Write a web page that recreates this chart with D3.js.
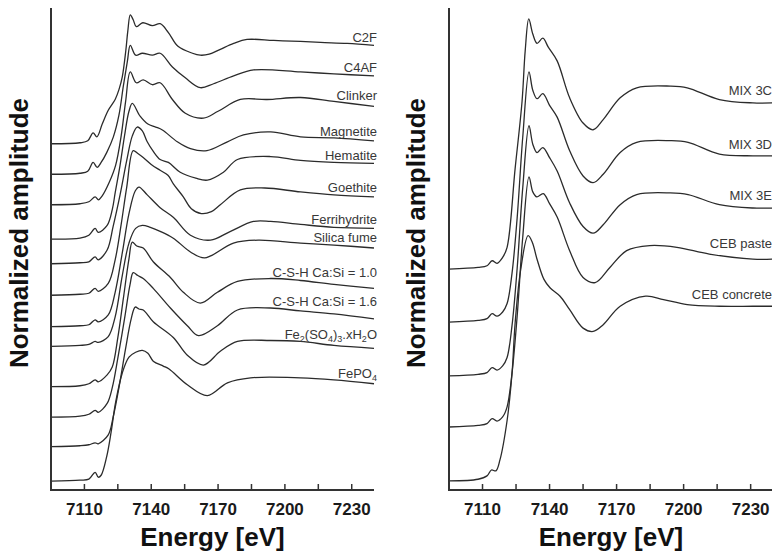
<!DOCTYPE html>
<html>
<head>
<meta charset="utf-8">
<script src="https://cdn.jsdelivr.net/npm/d3@7"></script>
<style>
  body { margin: 0; background: #fff; }
  svg { display: block; }
  .curve { fill: none; stroke: #2b2b2b; stroke-width: 1.3; }
  .lab { font-family: "Liberation Sans", Arial, sans-serif; font-size: 13px; fill: #383838; }
  .tick-label { font-family: "Liberation Sans", Arial, sans-serif; font-weight: bold; font-size: 17px; fill: #1a1a1a; }
  .axis-title { font-family: "Liberation Sans", Arial, sans-serif; font-weight: bold; font-size: 26px; fill: #111; }
</style>
</head>
<body>
<svg id="chart" width="772" height="555"></svg>
<script>
// energy ticks shared by both panels
const energyDomain = [7095, 7240];
const majorTicks = [7110, 7140, 7170, 7200, 7230];
const minorTicks = [7125, 7155, 7185, 7215];

// left panel: reference compounds, [energy eV, normalized mu]
const c2f = [[7095,0],[7108,0.01],[7111.5,0.03],[7113.9,0.11],[7115.6,0.07],[7118,0.2],[7120.7,0.34],[7123.8,0.45],[7125.5,0.55],[7127,0.68],[7128.6,0.95],[7129.5,1.15],[7130.6,1.31],[7131.9,1.26],[7133.3,1.19],[7136.2,1.23],[7140.5,1.2],[7144,1.22],[7147.7,1.13],[7152,0.99],[7158.5,0.92],[7162,0.9],[7166,0.91],[7171,0.96],[7177,1.02],[7183,1.06],[7195,1.05],[7207,1.04],[7216,1.03],[7228,1.02],[7240,1.0]];
const c4af = [[7095,0],[7108,0.01],[7111.5,0.03],[7113.9,0.12],[7115.7,0.07],[7117.5,0.12],[7120,0.22],[7123,0.38],[7125.5,0.6],[7127.5,0.9],[7129.3,1.15],[7130.6,1.31],[7133,1.21],[7136,1.23],[7140.5,1.21],[7144,1.23],[7149.5,1.09],[7155.3,0.98],[7162,0.88],[7168,0.92],[7177,1.0],[7186,1.06],[7207,1.04],[7222,1.02],[7240,1.0]];
const clinker = [[7095,0],[7108,0.01],[7112,0.03],[7114.8,0.08],[7116.3,0.05],[7118,0.09],[7121,0.22],[7124,0.4],[7126.5,0.7],[7128.5,1.05],[7130.6,1.35],[7133.3,1.24],[7136.4,1.27],[7140.5,1.22],[7144,1.24],[7149.5,1.07],[7155.3,0.93],[7163.4,0.88],[7170,0.95],[7180,1.07],[7192,1.07],[7207,1.09],[7222,1.05],[7240,1.0]];
const magnetite = [[7095,0],[7108,0.01],[7112,0.04],[7114.8,0.11],[7116.2,0.07],[7120.2,0.14],[7122.5,0.3],[7123.8,0.47],[7126,0.75],[7128,1.05],[7130,1.3],[7131.5,1.38],[7135,1.25],[7138.5,1.17],[7142,1.14],[7145,1.11],[7151.7,0.99],[7157.6,0.92],[7165,0.9],[7174.2,0.99],[7181.4,1.06],[7193.6,1.09],[7207,1.04],[7222,1.03],[7240,1.0]];
const hematite = [[7095,0],[7108,0.01],[7112,0.02],[7114.8,0.07],[7116.2,0.04],[7120.2,0.14],[7122.9,0.38],[7126,0.7],[7129,1.05],[7131.5,1.3],[7133.7,1.39],[7136,1.35],[7138.2,1.24],[7141,1.14],[7144,1.06],[7147.7,1.03],[7153,0.93],[7160,0.87],[7165.2,0.85],[7172.4,0.93],[7178.7,1.06],[7193.6,1.09],[7207,1.05],[7222,1.03],[7240,1.02]];
const goethite = [[7095,0],[7108,0.01],[7112,0.02],[7114.8,0.07],[7116.2,0.04],[7120.7,0.12],[7123.8,0.36],[7126.5,0.72],[7129,1.1],[7131.9,1.47],[7134,1.44],[7136.4,1.4],[7140,1.33],[7144,1.27],[7147.5,1.22],[7150,1.13],[7154.4,1.0],[7158,0.88],[7162.5,0.83],[7167,0.85],[7171,0.92],[7180,1.07],[7191,1.09],[7207,1.05],[7222,1.02],[7240,1.0]];
const ferrihydrite = [[7095,0],[7108,0.01],[7112,0.02],[7114.8,0.07],[7116.2,0.05],[7120.7,0.12],[7123.8,0.35],[7127,0.75],[7130,1.15],[7132.8,1.38],[7134.5,1.42],[7138.2,1.34],[7144,1.21],[7150,1.11],[7157.6,0.93],[7166.6,0.88],[7175.6,0.97],[7185.9,1.07],[7193.6,1.07],[7207,1.04],[7222,1.01],[7240,1.0]];
const silicaFume = [[7095,0],[7108,0.01],[7112,0.02],[7114.8,0.05],[7116.2,0.04],[7120.7,0.1],[7123.8,0.3],[7127,0.72],[7130,1.05],[7133,1.2],[7136,1.23],[7139.6,1.21],[7144,1.17],[7149.9,1.1],[7157.6,0.96],[7164,0.9],[7176.9,1.05],[7188,1.08],[7207,1.05],[7222,1.03],[7240,1.0]];
const csh10 = [[7095,0],[7108,0.01],[7112,0.03],[7114.8,0.07],[7116.2,0.05],[7120.2,0.12],[7122.5,0.2],[7125,0.5],[7127.5,0.9],[7130,1.3],[7131.5,1.47],[7133.5,1.43],[7136.4,1.41],[7140.9,1.27],[7148.6,1.11],[7154.4,0.96],[7162,0.85],[7169.7,0.96],[7178.7,1.07],[7193.6,1.1],[7207,1.08],[7222,1.04],[7240,1.0]];
const csh16 = [[7095,0],[7108,0.01],[7112,0.03],[7114.8,0.07],[7116.2,0.05],[7120.2,0.14],[7122.5,0.3],[7125,0.6],[7128,1.0],[7130.5,1.35],[7131.9,1.47],[7134,1.44],[7136.4,1.41],[7140.9,1.31],[7148.6,1.11],[7156.2,0.93],[7161.2,0.83],[7169.7,0.93],[7178.7,1.09],[7193.6,1.11],[7207,1.08],[7222,1.05],[7240,1.0]];
const feSulfate = [[7095,0],[7108,0.01],[7112,0.02],[7114.8,0.04],[7116.2,0.03],[7120.7,0.12],[7122.9,0.3],[7125.5,0.6],[7128.5,1.0],[7131,1.3],[7132.8,1.42],[7134.5,1.4],[7136.4,1.39],[7140.9,1.27],[7149.9,1.11],[7156.2,0.93],[7163.4,0.83],[7171,0.97],[7178.7,1.07],[7193.6,1.08],[7207,1.07],[7222,1.03],[7240,1.0]];
const fePO4 = [[7095,0],[7108,0.01],[7112,0.02],[7114.8,0.09],[7116.2,0.04],[7117.5,0.06],[7120,0.25],[7122,0.5],[7124,0.8],[7127,1.1],[7130,1.26],[7133,1.31],[7136,1.33],[7138.5,1.3],[7140.9,1.22],[7145.4,1.17],[7148,1.14],[7156.2,0.98],[7165.2,0.87],[7174.2,1.0],[7184.6,1.05],[7207,1.05],[7222,1.03],[7240,0.99]];

const leftSeries = [c2f, c4af, clinker, magnetite, hematite, goethite, ferrihydrite, silicaFume, csh10, csh16, feSulfate, fePO4];
const leftOffsets = [3.52, 3.21, 2.9, 2.55, 2.3, 1.98, 1.66, 1.46, 1.05, 0.74, 0.44, 0.09];
// label pieces: [text, isSubscript]
const leftLabels = [
  [["C2F"]], [["C4AF"]], [["Clinker"]], [["Magnetite"]], [["Hematite"]], [["Goethite"]],
  [["Ferrihydrite"]], [["Silica fume"]], [["C-S-H Ca:Si = 1.0"]], [["C-S-H Ca:Si = 1.6"]],
  [["Fe"], ["2", 1], ["(SO"], ["4", 1], [")"], ["3", 1], [".xH"], ["2", 1], ["O"]],
  [["FePO"], ["4", 1]]
];

// right panel: samples
const mix3c = [[7095,0],[7108,0.01],[7112,0.02],[7114.3,0.05],[7116.5,0.035],[7119,0.07],[7121,0.13],[7124.6,0.6],[7127.7,1.0],[7129.1,1.3],[7130.7,1.49],[7132.5,1.4],[7134.4,1.345],[7137,1.375],[7139.5,1.32],[7143.4,1.24],[7149,1.02],[7155,0.87],[7159.5,0.83],[7164,0.89],[7171.6,1.02],[7179,1.08],[7194,1.09],[7201.6,1.08],[7216,1.01],[7231,0.99],[7240,0.99]];
const mix3d = [[7095,0],[7108,0.01],[7112,0.02],[7114.3,0.05],[7116.5,0.035],[7119,0.06],[7121,0.11],[7123.2,0.29],[7125.5,0.62],[7128,1.1],[7130.8,1.49],[7132.5,1.38],[7134.4,1.33],[7137,1.36],[7140,1.29],[7143.4,1.22],[7149,1.02],[7155,0.87],[7159.5,0.83],[7164,0.88],[7171.6,1.01],[7179,1.07],[7194,1.08],[7202,1.07],[7216,1.0],[7231,0.99],[7240,0.99]];
const mix3e = [[7095,0],[7108,0.01],[7112,0.02],[7114.3,0.05],[7116.5,0.035],[7119,0.06],[7121,0.11],[7123.2,0.3],[7125.5,0.64],[7128,1.12],[7130.8,1.49],[7132.5,1.38],[7134.4,1.33],[7137,1.36],[7140,1.3],[7143.4,1.22],[7149,1.03],[7155,0.89],[7159.5,0.85],[7164,0.9],[7171.6,1.02],[7179,1.08],[7194,1.09],[7202,1.08],[7216,1.02],[7231,1.0],[7240,1.0]];
const cebPaste = [[7095,0],[7108,0.01],[7112,0.02],[7114.3,0.05],[7116.5,0.035],[7119,0.06],[7121,0.12],[7123.2,0.32],[7125.5,0.66],[7128,1.13],[7130.8,1.49],[7132.5,1.4],[7134.3,1.37],[7137.2,1.39],[7140,1.33],[7143.4,1.25],[7149,1.05],[7155,0.89],[7160.4,0.86],[7167,0.95],[7174.5,1.05],[7184.8,1.08],[7197,1.07],[7211.5,1.03],[7231,1.0],[7240,1.0]];
const cebConcrete = [[7095,0],[7108,0.01],[7112,0.03],[7114,0.065],[7116,0.06],[7117.8,0.125],[7121,0.36],[7123.2,0.64],[7124.6,0.94],[7127,1.25],[7130.4,1.46],[7132.3,1.42],[7134.4,1.32],[7137.5,1.2],[7140.2,1.15],[7144.7,1.1],[7149,1.02],[7155,0.91],[7159.5,0.89],[7164,0.93],[7171.6,1.04],[7183,1.1],[7191,1.08],[7201.6,1.05],[7216,1.04],[7231,1.04],[7240,1.04]];

const rightSeries = [mix3c, mix3d, mix3e, cebPaste, cebConcrete];
const rightOffsets = [1.315, 1.0, 0.679, 0.375, 0.054];
const rightLabels = [[["MIX 3C"]], [["MIX 3D"]], [["MIX 3E"]], [["CEB paste"]], [["CEB concrete"]]];

const svg = d3.select('#chart');

function drawPanel({ x0, x1, yTop, yBottom, yMax, series, offsets, labels, labelX, labelGap, titleX }) {
    const x = d3.scaleLinear().domain(energyDomain).range([x0, x1]);
    const y = d3.scaleLinear().domain([0, yMax]).range([yBottom, yTop]);
    const g = svg.append('g');

    const line = d3.line()
        .x(d => x(d[0]))
        .y(d => y(d[1]))
        .curve(d3.curveCatmullRom.alpha(0.5));

    series.forEach((s, i) => {
        const pts = s.map(d => [d[0], d[1] + offsets[i]]);
        const path = g.append('path').attr('class', 'curve').attr('d', line(pts));

        const t = g.append('text')
            .attr('class', 'lab')
            .attr('text-anchor', 'end')
            .attr('x', labelX(x));
        labels[i].forEach((piece, k) => {
            const ts = t.append('tspan').text(piece[0]);
            if (piece[1]) ts.attr('font-size', 9).attr('dy', 3);
            else if (k > 0) ts.attr('dy', -3);
        });

        // sit the label just above the curve where it runs under the text
        const w = t.node().getComputedTextLength();
        const left = labelX(x) - w;
        const node = path.node();
        const total = node.getTotalLength();
        let top = Infinity;
        for (let l = total; l > 0; l -= 1) {
            const p = node.getPointAtLength(l);
            if (p.x < left) break;
            top = Math.min(top, p.y);
        }
        t.attr('y', top - labelGap);
    });

    // axis lines
    g.append('line')
        .attr('x1', x0).attr('x2', x0)
        .attr('y1', yTop).attr('y2', yBottom + 1)
        .attr('stroke', '#333').attr('stroke-width', 2);
    g.append('line')
        .attr('x1', x0 - 1).attr('x2', x1)
        .attr('y1', yBottom).attr('y2', yBottom)
        .attr('stroke', '#333').attr('stroke-width', 2);

    // inward ticks
    g.selectAll('.tk')
        .data(majorTicks.concat(minorTicks))
        .enter()
        .append('line')
        .attr('x1', d => x(d)).attr('x2', d => x(d))
        .attr('y1', yBottom).attr('y2', yBottom - 6)
        .attr('stroke', '#333').attr('stroke-width', 1.5);

    g.selectAll('.tick-label')
        .data(majorTicks)
        .enter()
        .append('text')
        .attr('class', 'tick-label')
        .attr('text-anchor', 'middle')
        .attr('x', d => x(d))
        .attr('y', yBottom + 25)
        .text(d => d);

    g.append('text')
        .attr('class', 'axis-title')
        .attr('text-anchor', 'middle')
        .attr('x', (x0 + x1) / 2)
        .attr('y', 546)
        .text('Energy [eV]');

    g.append('text')
        .attr('class', 'axis-title')
        .attr('text-anchor', 'middle')
        .attr('transform', `translate(${titleX},233) rotate(-90)`)
        .text('Normalized amplitude');
}

drawPanel({
    x0: 51, x1: 374, yTop: 8, yBottom: 490, yMax: 4.9,
    series: leftSeries, offsets: leftOffsets, labels: leftLabels,
    labelX: x => x(7240) + 3, labelGap: 2, titleX: 28
});

drawPanel({
    x0: 449, x1: 773, yTop: 8, yBottom: 490, yMax: 2.87,
    series: rightSeries, offsets: rightOffsets, labels: rightLabels,
    labelX: x => x(7240) - 1, labelGap: 6, titleX: 425
});
</script>
</body>
</html>
